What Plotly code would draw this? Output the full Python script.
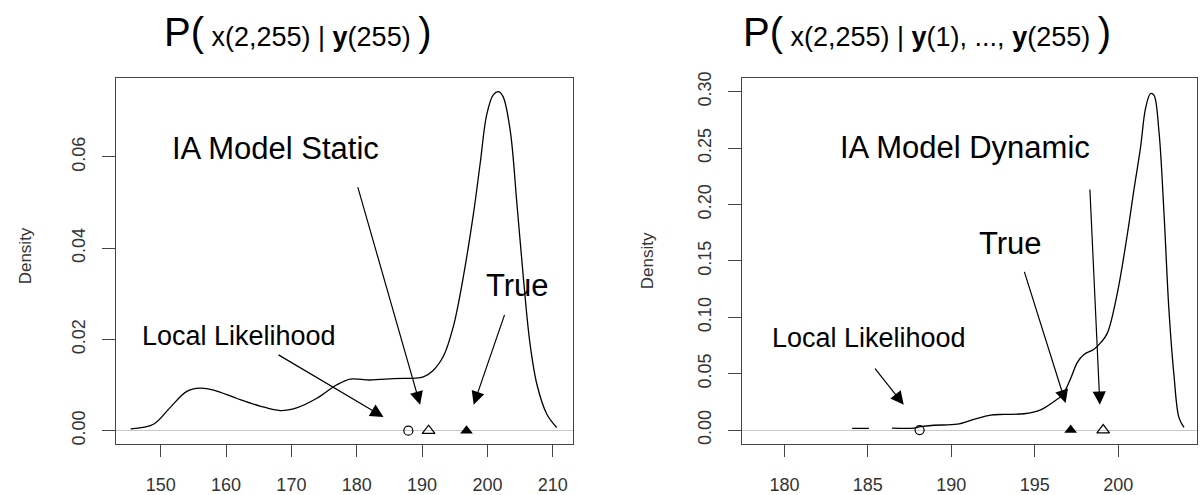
import plotly.graph_objects as go

# ---------------- data ----------------
# Left panel: P( x(2,255) | y(255) )
left_x = [145.4, 148.9, 151.4, 154.0, 156.0, 158.1, 161.6, 165.2, 168.3, 170.8, 173.9,
          176.9, 179.0, 182.0, 185.6, 190.2, 191.7, 193.3, 194.8, 196.3, 197.9, 198.9,
          199.9, 200.9, 201.7, 202.4, 203.5, 204.5, 205.5, 206.5, 207.6, 209.1, 210.6]
left_density = [0.0004, 0.0014, 0.0050, 0.0086, 0.0093, 0.0089, 0.0071, 0.0054, 0.0044,
                0.0050, 0.0071, 0.0100, 0.0113, 0.0111, 0.0114, 0.0118, 0.0132, 0.0164,
                0.0229, 0.0336, 0.0479, 0.0586, 0.0693, 0.0736, 0.0743, 0.0732, 0.0657,
                0.0500, 0.0336, 0.0193, 0.0100, 0.0036, 0.0007]

# Right panel: P( x(2,255) | y(1..255) )
right_x = [184.06, 185.06, None, 186.45, 187.75, 188.15, 188.95, 190.35, 191.35, 192.35,
           193.15, 194.35, 195.35, 196.15, 196.65, 197.15, 197.55, 197.95, 198.55, 198.95,
           199.35, 199.94, 200.54, 200.94, 201.34, 201.64, 201.94, 202.14, 202.44, 202.74,
           203.04, 203.34, 203.64, 203.94]
right_density = [0.0015, 0.0015, None, 0.0017, 0.0017, 0.0030, 0.0043, 0.0052, 0.0095,
                 0.0133, 0.0139, 0.0145, 0.0180, 0.0254, 0.0310, 0.0457, 0.0600, 0.0670,
                 0.0717, 0.0775, 0.0860, 0.1210, 0.1730, 0.2130, 0.2510, 0.2855, 0.2985,
                 0.2970, 0.2650, 0.1930, 0.1060, 0.0486, 0.0110, 0.0023]

# Point estimates on the baseline
left_local_likelihood = 187.9
left_ia_model = 191.0
left_true = 196.8
right_local_likelihood = 188.1
right_ia_model = 199.1
right_true = 197.15

# Arrows: (tip x, tip y, tail x, tail y)
left_arrows = [(184.1, 0.0030, 167.8, 0.0168),
               (189.7, 0.0057, 180.1, 0.0537),
               (197.9, 0.0057, 202.7, 0.0257)]
right_arrows = [(187.15, 0.0225, 185.36, 0.0558),
                (196.85, 0.0240, 194.35, 0.1416),
                (198.9, 0.0225, 198.3, 0.2147)]

# Labels: (text, x, y, size)
left_labels = [("IA Model Static", 167.6, 0.0618, 31),
               ("True", 204.6, 0.0318, 31),
               ("Local Likelihood", 162.0, 0.0207, 27)]
right_labels = [("IA Model Dynamic", 190.85, 0.2509, 31),
                ("True", 193.55, 0.1656, 31),
                ("Local Likelihood", 185.06, 0.0818, 27)]

left_xticks = [150, 160, 170, 180, 190, 200, 210]
left_yticks = [0.00, 0.02, 0.04, 0.06]
right_xticks = [180, 185, 190, 195, 200]
right_yticks = [0.00, 0.05, 0.10, 0.15, 0.20, 0.25, 0.30]

FONT = "Liberation Sans, Arial, Helvetica, sans-serif"
W, H = 1200, 495

fig = go.Figure()

line_style = dict(color="black", width=1.3)
fig.add_trace(go.Scatter(x=left_x, y=left_density, mode="lines", line=line_style,
                         line_shape="spline", xaxis="x", yaxis="y", showlegend=False))
fig.add_trace(go.Scatter(x=right_x, y=right_density, mode="lines", line=line_style,
                         line_shape="spline", connectgaps=False,
                         xaxis="x2", yaxis="y2", showlegend=False))


def add_markers(xa, ya, ll, ia, tr):
    fig.add_trace(go.Scatter(x=[ll], y=[0], mode="markers", xaxis=xa, yaxis=ya,
                             marker=dict(symbol="circle-open", size=9, color="black",
                                         line=dict(width=1.2)), showlegend=False))
    fig.add_trace(go.Scatter(x=[ia], y=[0], mode="markers", xaxis=xa, yaxis=ya,
                             marker=dict(symbol="triangle-up-open", size=11, color="black",
                                         line=dict(width=1.2)), showlegend=False))
    fig.add_trace(go.Scatter(x=[tr], y=[0], mode="markers", xaxis=xa, yaxis=ya,
                             marker=dict(symbol="triangle-up", size=11, color="black"),
                             showlegend=False))


add_markers("x", "y", left_local_likelihood, left_ia_model, left_true)
add_markers("x2", "y2", right_local_likelihood, right_ia_model, right_true)

annotations = []
for (arrows, labels, xr, yr) in [(left_arrows, left_labels, "x", "y"),
                                 (right_arrows, right_labels, "x2", "y2")]:
    for tx, ty, sx, sy in arrows:
        annotations.append(dict(x=tx, y=ty, ax=sx, ay=sy, xref=xr, yref=yr,
                                axref=xr, ayref=yr, showarrow=True, arrowhead=2,
                                arrowsize=2.2, arrowwidth=1.2, arrowcolor="black",
                                standoff=0, startstandoff=0, text=""))
    for text, lx, ly, sz in labels:
        annotations.append(dict(x=lx, y=ly, xref=xr, yref=yr, text=text, showarrow=False,
                                font=dict(family=FONT, size=sz, color="black"),
                                xanchor="center", yanchor="middle"))

# Density axis titles
for px, py in [(25, 255), (647, 260)]:
    annotations.append(dict(x=px / W, y=1 - py / H, xref="paper", yref="paper",
                            text="Density", textangle=-90, showarrow=False,
                            font=dict(family=FONT, size=17, color="#333"),
                            xanchor="center", yanchor="middle"))

big = '<span style="font-size:40px">'
titles = [
    (297, big + "P(</span> x(2,255) | <b>y</b>(255) " + big + ")</span>"),
    (927, big + "P(</span> x(2,255) | <b>y</b>(1), ..., <b>y</b>(255) " + big + ")</span>"),
]
for cx, txt in titles:
    annotations.append(dict(x=cx / W, y=1 - 26 / H, xref="paper", yref="paper", text=txt,
                            showarrow=False, font=dict(family=FONT, size=27, color="black"),
                            xanchor="center", yanchor="middle"))

axis_common = dict(showline=True, mirror=True, linecolor="#444", linewidth=1.3,
                   showgrid=False, ticks="outside", tickcolor="#444", tickwidth=1.2,
                   tickfont=dict(family=FONT, size=18, color="#333"))

ydom = [1 - 447 / H, 1 - 73 / H]
fig.update_layout(
    width=W, height=H,
    margin=dict(l=0, r=0, t=0, b=0),
    paper_bgcolor="white", plot_bgcolor="white",
    showlegend=False,
    xaxis=dict(domain=[116 / W, 573 / W], range=[143.16, 213.1], tickvals=left_xticks,
               ticklen=12, zeroline=False, ticklabelstandoff=12, anchor="y", **axis_common),
    yaxis=dict(domain=ydom, range=[-0.00294, 0.0772], tickvals=left_yticks, tickformat=".2f",
               tickangle=-90, ticklen=13, zeroline=True, zerolinecolor="#c8c8c8",
               zerolinewidth=1, ticklabelstandoff=10, anchor="x", **axis_common),
    xaxis2=dict(domain=[742 / W, 1197 / W], range=[177.46, 204.72], tickvals=right_xticks,
                ticklen=12, zeroline=False, ticklabelstandoff=12, anchor="y2", **axis_common),
    yaxis2=dict(domain=ydom, range=[-0.0124, 0.3119], tickvals=right_yticks, tickformat=".2f",
                tickangle=-90, ticklen=13, zeroline=True, zerolinecolor="#c8c8c8",
                zerolinewidth=1, ticklabelstandoff=10, anchor="x2", **axis_common),
    annotations=annotations,
)

fig.write_html(
    "out.html",
    config={"displayModeBar": False},
    post_script="document.body.style.margin='0';document.body.style.overflow='hidden';",
)
